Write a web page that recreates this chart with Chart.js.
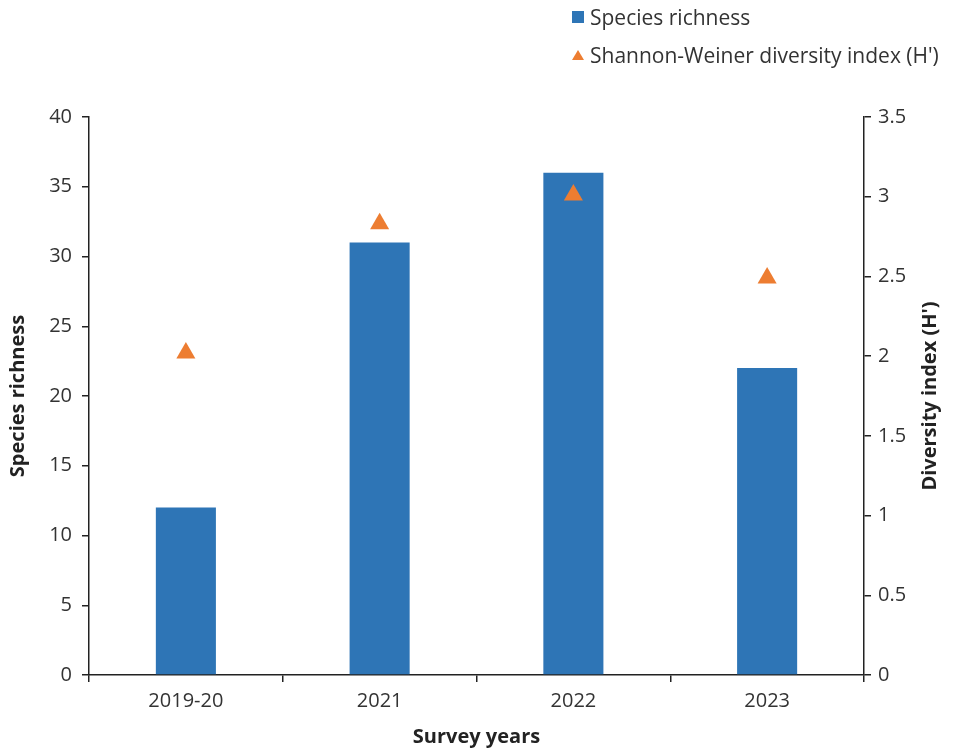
<!DOCTYPE html>
<html>
<head>
<meta charset="utf-8">
<script src="https://cdn.jsdelivr.net/npm/chart.js@4"></script>
<style>
    html, body { margin: 0; padding: 0; background: #fff; }
    #wrap { position: relative; width: 958px; height: 753px; }
    #legend { position: absolute; left: 572px; top: -2px; font-family: "Open Sans", sans-serif; font-size: 21px; color: #333; }
    #legend .item { display: flex; align-items: center; height: 38px; }
    #legend .box { width: 12px; height: 12px; margin-right: 6px; }
    #legend .tri { width: 0; height: 0; border-left: 6px solid transparent; border-right: 6px solid transparent; border-bottom: 10px solid #ED7D31; margin-right: 6px; }
</style>
</head>
<body>
<div id="wrap">
    <canvas id="chart" width="958" height="753"></canvas>
    <div id="legend"></div>
</div>
<script>
const years = ['2019-20', '2021', '2022', '2023'];
const speciesRichness = [12, 31, 36, 22];
const diversityIndex = [2.02, 2.83, 3.01, 2.49];
const leftTicks = [0, 5, 10, 15, 20, 25, 30, 35, 40];
const rightTicks = [0, 0.5, 1, 1.5, 2, 2.5, 3, 3.5];
const rightTitle = "Diversity index (H')";

const blue = '#2E75B6';
const orange = '#ED7D31';
const axisColor = '#222';
const tickFont = { family: 'Open Sans', size: 20 };
const titleFont = { family: 'Open Sans', size: 20, weight: 'bold' };

let chart;

// right axis title reads bottom-to-top in the original, so draw it by hand
const rightTitlePlugin = {
    id: 'rightTitle',
    afterDraw(c) {
        const a = c.chartArea;
        const g = c.ctx;
        g.save();
        g.translate(930, (a.top + a.bottom) / 2);
        g.rotate(-Math.PI / 2);
        g.font = `bold ${titleFont.size}px "${titleFont.family}"`;
        g.fillStyle = '#222';
        g.textAlign = 'center';
        g.textBaseline = 'middle';
        g.fillText(rightTitle, 0, 0);
        g.restore();
    }
};

window.addEventListener('DOMContentLoaded', () => {
    const ctx = document.getElementById('chart').getContext('2d');
    chart = new Chart(ctx, {
        type: 'bar',
        data: {
            labels: years,
            datasets: [
                {
                    label: 'Species richness',
                    data: speciesRichness,
                    backgroundColor: blue,
                    yAxisID: 'y',
                    categoryPercentage: 1,
                    barPercentage: 0.31,
                    order: 2
                },
                {
                    type: 'line',
                    label: "Shannon-Weiner diversity index (H')",
                    data: diversityIndex,
                    yAxisID: 'y1',
                    showLine: false,
                    pointStyle: 'triangle',
                    pointRadius: 11,
                    pointHoverRadius: 11,
                    backgroundColor: orange,
                    borderColor: orange,
                    borderWidth: 0,
                    order: 1
                }
            ]
        },
        options: {
            responsive: false,
            animation: false,
            layout: { padding: { top: 117, bottom: 0, left: 6, right: 0 } },
            plugins: {
                legend: { display: false },
                tooltip: { enabled: false }
            },
            scales: {
                x: {
                    offset: true,
                    grid: { display: true, drawOnChartArea: false, offset: true, color: axisColor, tickLength: 7, lineWidth: 1.5 },
                    border: { color: axisColor, width: 1.5 },
                    ticks: { color: '#333', font: tickFont, padding: 7 },
                    title: { display: true, text: 'Survey years', color: '#222', font: titleFont, padding: 4 },
                    afterFit: s => { s.height = 78; }
                },
                y: {
                    position: 'left',
                    min: 0,
                    max: 40,
                    afterBuildTicks: s => { s.ticks = leftTicks.map(v => ({ value: v })); },
                    grid: { display: true, drawOnChartArea: false, color: axisColor, tickLength: 7, lineWidth: 1.5 },
                    border: { color: axisColor, width: 1.5 },
                    ticks: { color: '#333', font: tickFont, padding: 10 },
                    title: { display: true, text: 'Species richness', color: '#222', font: titleFont, padding: 0 },
                    afterFit: s => { s.width = 83; }
                },
                y1: {
                    position: 'right',
                    min: 0,
                    max: 3.5,
                    afterBuildTicks: s => { s.ticks = rightTicks.map(v => ({ value: v })); },
                    grid: { display: true, drawOnChartArea: false, color: axisColor, tickLength: 7, lineWidth: 1.5 },
                    border: { color: axisColor, width: 1.5 },
                    ticks: { color: '#333', font: tickFont, padding: 7, callback: v => String(v) },
                    afterFit: s => { s.width = 94; }
                }
            }
        },
        plugins: [rightTitlePlugin]
    });

    // legend built from the datasets
    const legend = document.getElementById('legend');
    chart.data.datasets.forEach((ds, i) => {
        const marker = i === 0 ? `<span class="box" style="background:${ds.backgroundColor}"></span>` : `<span class="tri"></span>`;
        legend.innerHTML += `<div class="item">${marker}<span>${ds.label}</span></div>`;
    });
});
</script>
</body>
</html>
